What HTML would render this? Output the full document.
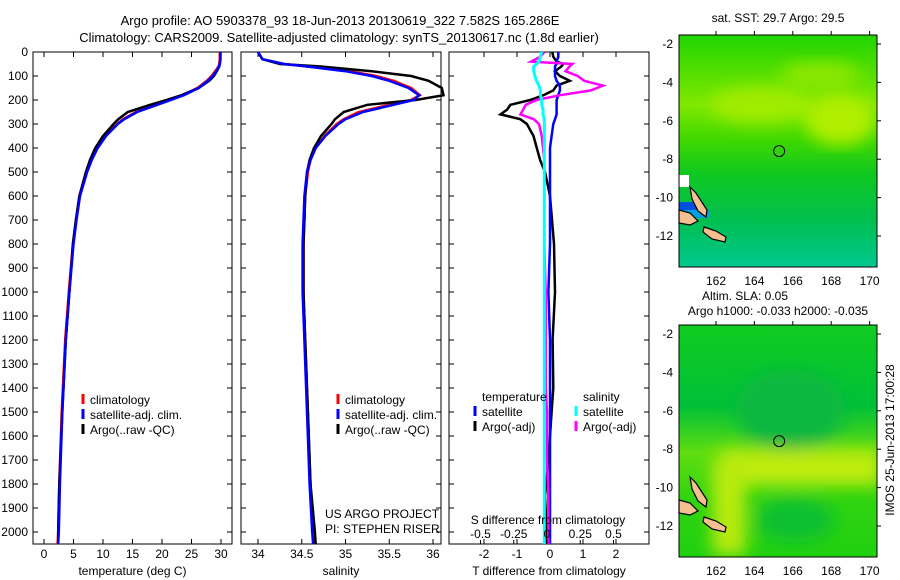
<!DOCTYPE html>
<html><head><meta charset="utf-8">
<style>
body{margin:0;background:#fff;}
svg{display:block;font-family:"Liberation Sans",sans-serif;}
</style></head>
<body>
<svg id="fig" width="900" height="580" viewBox="0 0 900 580" xmlns="http://www.w3.org/2000/svg">
<defs>
<linearGradient id="g1" x1="0" y1="0" x2="0" y2="1">
<stop offset="0" stop-color="#20d400"/><stop offset="0.3" stop-color="#80e800"/><stop offset="0.45" stop-color="#40d800"/>
<stop offset="0.6" stop-color="#10c820"/><stop offset="0.8" stop-color="#00bf50"/><stop offset="1" stop-color="#00c890"/></linearGradient>
<linearGradient id="g2" x1="0" y1="0" x2="0" y2="1">
<stop offset="0" stop-color="#10cc20"/><stop offset="0.35" stop-color="#00c038"/><stop offset="0.55" stop-color="#60dd10"/>
<stop offset="0.75" stop-color="#30d410"/><stop offset="1" stop-color="#20d010"/></linearGradient>
<filter id="blur"><feGaussianBlur stdDeviation="8"/></filter>
<clipPath id="c1"><rect x="679" y="35" width="198" height="232"/></clipPath>
<clipPath id="c2"><rect x="679" y="325" width="198" height="232"/></clipPath>
</defs>
<text x="340" y="25" font-size="13" text-anchor="middle">Argo profile: AO 5903378_93 18-Jun-2013 20130619_322 7.582S 165.286E</text>
<text x="339" y="42" font-size="13" text-anchor="middle">Climatology: CARS2009. Satellite-adjusted climatology: synTS_20130617.nc (1.8d earlier)</text>
<g clip-path="url(#c1)">
<rect x="679" y="35" width="198" height="232" fill="url(#g1)"/>
<g filter="url(#blur)">
<ellipse cx="760" cy="105" rx="50" ry="18" fill="#a0ec00"/>
<ellipse cx="840" cy="120" rx="35" ry="25" fill="#b0ee00"/>
<ellipse cx="820" cy="75" rx="40" ry="12" fill="#90e800"/>
</g>
<rect x="679" y="202" width="22" height="12" fill="#0050e0"/>
<rect x="679" y="210" width="30" height="8" fill="#00a0e0"/>
<rect x="679" y="175" width="10" height="12" fill="#fff"/>
</g>
<g clip-path="url(#c2)">
<rect x="679" y="325" width="198" height="232" fill="url(#g2)"/>
<g filter="url(#blur)">
<rect x="720" y="450" width="160" height="35" fill="#c0ec10"/>
<rect x="712" y="460" width="34" height="95" fill="#b8ea10"/>
<ellipse cx="790" cy="410" rx="55" ry="40" fill="#08b840"/>
<ellipse cx="795" cy="520" rx="40" ry="22" fill="#10c030"/>
</g>
</g>
<text x="894" y="440" font-size="12" transform="rotate(-90 894 440)" text-anchor="middle">IMOS 25-Jun-2013 17:00:28</text>
</svg>
<script>
// ---------- data ----------
const depthTicks=[0,100,200,300,400,500,600,700,800,900,1000,1100,1200,1300,1400,1500,1600,1700,1800,1900,2000];
const tempTicks=[0,5,10,15,20,25,30];
const salTicks=[34,34.5,35,35.5,36];
const salTickLabels=["34","34.5","35","35.5","36"];
const tdiffTicks=[-2,-1,0,1,2];
const sdiffTicks=[-0.5,-0.25,0,0.25,0.5];
const sdiffTickLabels=["-0.5","-0.25","0","0.25","0.5"];

const profDepth=[0,30,50,60,80,100,120,150,180,200,220,250,280,300,350,400,450,500,600,700,800,1000,1200,1500,1800,2000,2050];
const tempClim=[29.8,29.8,29.7,29.6,29.0,28.4,27.6,26.0,23.5,21.3,19.0,15.6,13.4,12.4,10.4,9.0,8.0,7.2,6.0,5.4,4.9,4.2,3.6,3.0,2.6,2.4,2.3];
const tempSat=[29.9,29.9,29.8,29.7,29.2,28.6,27.8,26.2,23.7,21.5,19.2,15.8,13.6,12.5,10.5,9.1,8.1,7.3,6.1,5.5,5.0,4.3,3.7,3.1,2.7,2.5,2.4];
const tempArgo=[29.9,29.9,29.8,29.7,29.3,28.8,28.0,26.2,23.3,20.8,18.0,14.2,12.6,11.8,10.0,8.7,7.8,7.1,6.0,5.4,4.9,4.3,3.7,3.1,2.6,2.4,2.4];
const salClim=[34.0,34.05,34.3,34.55,35.05,35.35,35.55,35.75,35.85,35.75,35.5,35.15,34.98,34.9,34.76,34.66,34.6,34.57,34.54,34.53,34.52,34.52,34.54,34.57,34.6,34.63,34.65];
const salSat=[34.0,34.05,34.3,34.55,35.0,35.3,35.5,35.72,35.84,35.78,35.55,35.2,35.0,34.92,34.77,34.66,34.6,34.56,34.53,34.52,34.51,34.51,34.53,34.56,34.59,34.62,34.63];
const salArgo=[34.0,34.05,34.25,34.7,35.3,35.75,35.95,36.1,36.12,35.8,35.25,34.98,34.88,34.84,34.72,34.64,34.59,34.56,34.54,34.53,34.52,34.52,34.54,34.57,34.6,34.65,34.66];

const diffDepth=[0,20,40,50,60,80,100,120,140,160,180,200,220,240,260,280,300,350,400,450,500,600,800,1000,1200,1400,1500,1700,1850,2000,2050];
const tdiffSat=[0.25,0.25,0.2,0.2,0.15,0.15,0.15,0.2,0.3,0.3,0.25,0.2,0.2,0.2,0.2,0.15,0.1,0.05,0.0,0.0,0.0,0.0,0.0,-0.05,0.0,0.0,0.0,0.0,0.0,0.0,0.0];
const tdiffArgo=[0.07,0.1,0.2,0.4,0.35,0.15,0.3,0.6,0.2,0.1,-0.2,-0.6,-1.2,-1.3,-1.5,-0.9,-0.7,-0.5,-0.4,-0.3,-0.15,0.0,0.12,0.15,0.08,0.1,0.05,-0.05,-0.15,-0.1,-0.1];
const sdiffSat=[-0.04,-0.05,-0.06,-0.08,-0.1,-0.1,-0.09,-0.08,-0.06,-0.05,-0.05,-0.04,-0.04,-0.03,-0.03,-0.02,-0.02,-0.02,-0.02,-0.02,-0.02,-0.02,-0.02,-0.02,-0.02,-0.02,-0.02,-0.02,-0.02,-0.02,-0.02];
const sdiffArgo=[-0.02,-0.05,-0.12,0.19,0.17,0.14,0.23,0.28,0.42,0.33,0.1,-0.08,-0.16,-0.18,-0.2,-0.1,-0.06,-0.04,-0.03,-0.02,-0.02,-0.02,-0.02,-0.01,-0.01,-0.01,0.0,0.0,0.01,0.01,0.01];

const lonTicks=[162,164,166,168,170];
const latTicks=[-2,-4,-6,-8,-10,-12];
const argoLon=165.29, argoLat=-7.58;

// ---------- helpers ----------
const NS="http://www.w3.org/2000/svg";
const fig=document.getElementById('fig');
function mk(tag,attrs,parent){const e=document.createElementNS(NS,tag);for(const k in attrs)e.setAttribute(k,attrs[k]);(parent||fig).appendChild(e);return e;}
const yTop=52,yBot=544;
const yD=d=>yTop+d*0.24;

const panels=[
 {name:'temperature-panel',x0:33,x1:232,sx:v=>44+v*5.9,ticks:tempTicks,labels:tempTicks.map(String),xlabel:'temperature (deg C)'},
 {name:'salinity-panel',x0:241,x1:441,sx:v=>258+(v-34)*87.5,ticks:salTicks,labels:salTickLabels,xlabel:'salinity'},
 {name:'difference-panel',x0:449,x1:649,sx:v=>550+v*33,ticks:tdiffTicks,labels:tdiffTicks.map(String),xlabel:'T difference from climatology'}
];
const sxS=v=>547+v*133;

panels.forEach((p,i)=>{
 const g=mk('g',{});
 
 
 const fr=mk('rect',{x:p.x0,y:yTop,width:p.x1-p.x0,height:yBot-yTop,fill:'none',stroke:'#000','stroke-width':1},g);
 
 
 p.ticks.forEach((t,k)=>{
  const x=p.sx(t);
  mk('line',{x1:x,x2:x,y1:yTop,y2:yTop+5,stroke:'#000'},g);
  mk('line',{x1:x,x2:x,y1:yBot,y2:yBot-5,stroke:'#000'},g);
  const tl=mk('text',{x:x,y:yBot+14,'font-size':12,'text-anchor':'middle'},g);
  tl.textContent=p.labels[k];
  
  
 });
 depthTicks.forEach(d=>{
  mk('line',{x1:p.x0,x2:p.x0+5,y1:yD(d),y2:yD(d),stroke:'#000'},g);
  mk('line',{x1:p.x1,x2:p.x1-5,y1:yD(d),y2:yD(d),stroke:'#000'},g);
  if(i===0){
   const tl=mk('text',{x:28,y:yD(d)+4,'font-size':12,'text-anchor':'end'},g);
   tl.textContent=d;
   
   
  }
 });
 const xl=mk('text',{x:(p.x0+p.x1)/2,y:575,'font-size':12,'text-anchor':'middle'},g);
 xl.textContent=p.xlabel;
 
 
});

function line(depths,vals,sx,color,name,w){
 const pts=depths.map((d,k)=>sx(vals[k]).toFixed(1)+','+yD(d).toFixed(1)).join(' ');
 const pl=mk('polyline',{points:pts,fill:'none',stroke:color,'stroke-width':w||2.5});
 
 
}
const P=panels;
line(profDepth,tempClim,P[0].sx,'#f00','temp-climatology-line');
line(profDepth,tempArgo,P[0].sx,'#000','temp-argo-line');
line(profDepth,tempSat,P[0].sx,'#00f','temp-satellite-line');
line(profDepth,salClim,P[1].sx,'#f00','sal-climatology-line');
line(profDepth,salArgo,P[1].sx,'#000','sal-argo-line');
line(profDepth,salSat,P[1].sx,'#00f','sal-satellite-line');
line(diffDepth,tdiffArgo,P[2].sx,'#000','tdiff-argo-line');
line(diffDepth,tdiffSat,P[2].sx,'#00f','tdiff-satellite-line',2.5);
line(diffDepth,sdiffArgo,sxS,'#f0f','sdiff-argo-line',2.5);
line(diffDepth,sdiffSat,sxS,'#0ff','sdiff-satellite-line',3);

sdiffTicks.forEach((t,k)=>{
 const x=sxS(t);
 mk('line',{x1:x,x2:x,y1:yBot,y2:yBot-4,stroke:'#000'});
 const tl=mk('text',{x:x,y:538,'font-size':12,'text-anchor':'middle'});
 tl.textContent=sdiffTickLabels[k];
 
 
});
const st=mk('text',{x:548,y:524,'font-size':12,'text-anchor':'middle'});
st.textContent='S difference from climatology';



function legend(x,y,color,label,name){
 if(color){mk('line',{x1:x,x2:x,y1:y-10,y2:y,stroke:color,'stroke-width':3});}
 const t=mk('text',{x:x+7,y:y,'font-size':12});
 t.textContent=label;
 
 
}
[[83,'#f00','climatology'],[83,'#00f','satellite-adj. clim.'],[83,'#000','Argo(..raw -QC)']].forEach((r,k)=>legend(r[0],404+k*15,r[1],r[2],'legend-entry'));
[[338,'#f00','climatology'],[338,'#00f','satellite-adj. clim.'],[338,'#000','Argo(..raw -QC)']].forEach((r,k)=>legend(r[0],404+k*15,r[1],r[2],'legend-entry'));
legend(475,401,null,'temperature','legend-heading-temperature');
legend(475,416,'#00f','satellite','legend-entry');
legend(475,431,'#000','Argo(-adj)','legend-entry');
legend(576,401,null,'salinity','legend-heading-salinity');
legend(576,416,'#0ff','satellite','legend-entry');
legend(576,431,'#f0f','Argo(-adj)','legend-entry');
const pi1=mk('text',{x:325,y:518,'font-size':12});pi1.textContent='US ARGO PROJECT';

const pi2=mk('text',{x:325,y:533,'font-size':12});pi2.textContent='PI: STEPHEN RISER';


const maps=[{y0:35,title:['sat. SST: 29.7 Argo: 29.5'],name:'sst-map-axes'},{y0:325,title:['Altim. SLA: 0.05','Argo h1000: -0.033 h2000: -0.035'],name:'sla-map-axes'}];
const mx=lon=>716+(lon-162)*19.2;
maps.forEach(m=>{
 const my=lat=>m.y0+9+(-2-lat)*19.2;
 const g=mk('g',{});
 
 
 [[[679,m.y0+175],[690,m.y0+178],[698,m.y0+186],[690,m.y0+190],[679,m.y0+188]],
  [[690,m.y0+152],[696,m.y0+158],[707,m.y0+175],[706,m.y0+182],[698,m.y0+176],[692,m.y0+164]],
  [[704,m.y0+192],[716,m.y0+196],[726,m.y0+202],[725,m.y0+207],[712,m.y0+204],[703,m.y0+197]]].forEach(poly=>{
   mk('polygon',{points:poly.map(p=>p.join(',')).join(' '),fill:'#f4c090',stroke:'#000','stroke-width':1.2},g);
 });
 mk('rect',{x:679,y:m.y0,width:198,height:232,fill:'none',stroke:'#000'},g);
 lonTicks.forEach(l=>{
  mk('line',{x1:mx(l),x2:mx(l),y1:m.y0,y2:m.y0-4,stroke:'#000'},g);
  const t=mk('text',{x:mx(l),y:m.y0+250,'font-size':12,'text-anchor':'middle'},g);t.textContent=l;
 });
 latTicks.forEach(l=>{
  mk('line',{x1:877,x2:881,y1:my(l),y2:my(l),stroke:'#000'},g);
  const t=mk('text',{x:673,y:my(l)+4,'font-size':12,'text-anchor':'end'},g);t.textContent=l;
 });
 const c=mk('circle',{cx:mx(argoLon),cy:my(argoLat),r:5.5,fill:'none',stroke:'#000'},g);
 
 
 m.title.forEach((s,k)=>{
  const t=mk('text',{x:k===0&&m.title.length>1?745:778,y:m.y0-(m.title.length-k)*15+5+(m.title.length===1?-3:0),'font-size':12,'text-anchor':'middle'},g);
  t.textContent=s;
  
  
 });
});
</script>
</body></html>
